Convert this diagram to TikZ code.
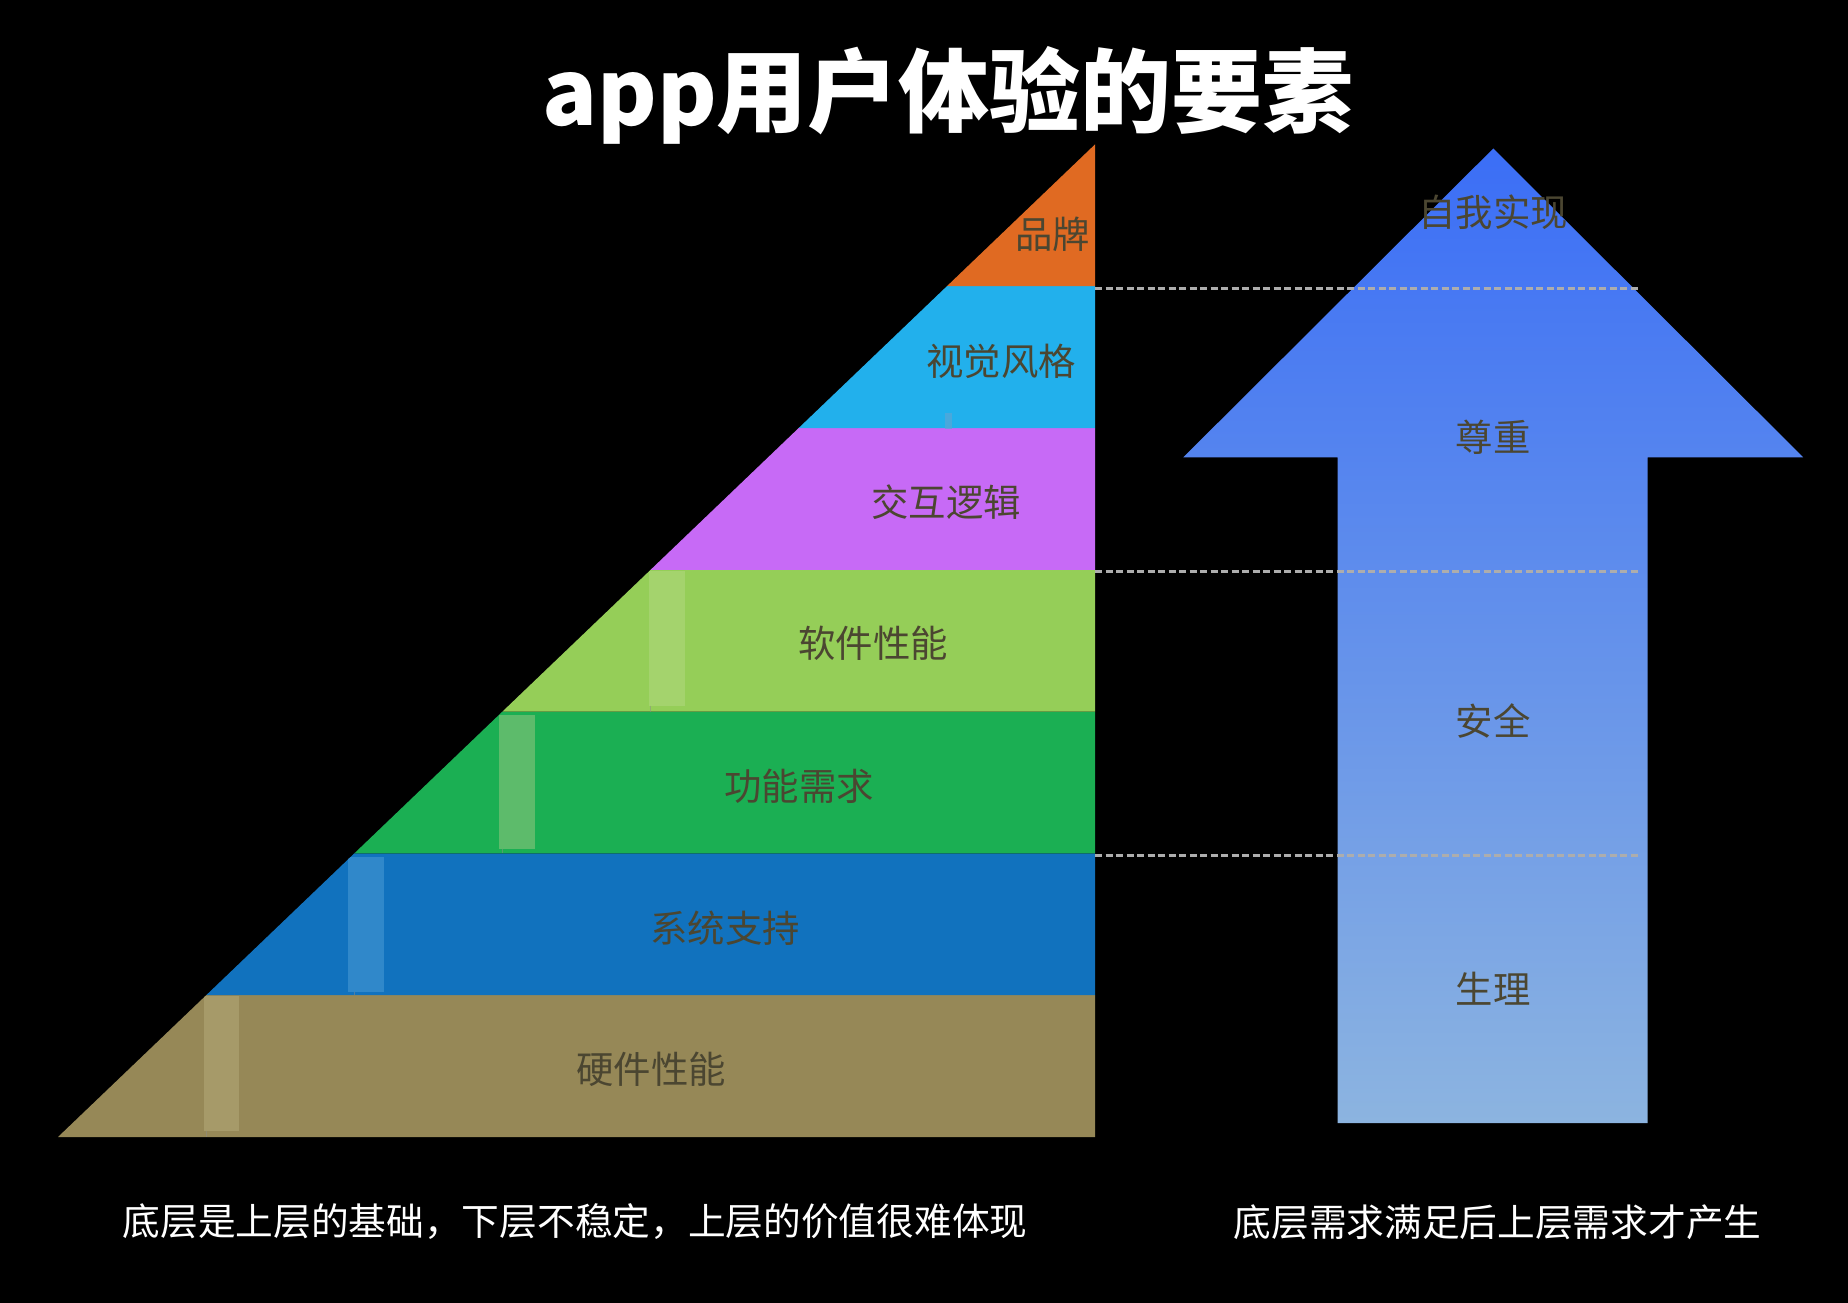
\documentclass[tikz,border=0pt]{standalone}
\usepackage{fontspec}
\setmainfont{Noto Sans CJK SC}
\newfontfamily\cjk{Noto Sans CJK SC}
\definecolor{cOrange}{HTML}{E06A22}
\definecolor{cSky}{HTML}{22B0EC}
\definecolor{cPurple}{HTML}{C76AF6}
\definecolor{cLime}{HTML}{95CE58}
\definecolor{cGreen}{HTML}{1BAF53}
\definecolor{cBlue}{HTML}{1172BE}
\definecolor{cBrown}{HTML}{968857}
\definecolor{sBrown}{HTML}{A69A69}
\definecolor{sBlue}{HTML}{3088CA}
\definecolor{sGreen}{HTML}{5DBB6B}
\definecolor{sLime}{HTML}{A4D36D}
\definecolor{sSky}{HTML}{5AA6D6}
\definecolor{labelc}{HTML}{4B4631}
\definecolor{arrowtop}{HTML}{3B6EF6}
\definecolor{arrowbot}{HTML}{8CB4E0}
\definecolor{dashc}{HTML}{ADADAD}
\tikzset{
  layerlabel/.style={font=\cjk\fontsize{37.4}{40}\selectfont, text=labelc, inner sep=0pt},
  note/.style={font=\cjk\fontsize{37.7}{40}\selectfont, text=white, inner sep=0pt},
  guide/.style={draw=dashc, line width=3pt, dash pattern=on 7pt off 3.5pt},
  tick/.style={draw=black!45, line width=0.8pt, opacity=0.5}
}
\begin{document}
\begin{tikzpicture}[x=1pt,y=-1pt]
\fill[black] (0,0) rectangle (1848,1303);
\useasboundingbox (0,0) rectangle (1848,1303);

% pyramid layers
\fill[cBrown]  (58,1137) -- (1095,1137) -- (1095,995.2) -- (206.2,995.2) -- cycle;
\fill[cBlue]   (206.2,995.2) -- (1095,995.2) -- (1095,853.4) -- (354.3,853.4) -- cycle;
\fill[cGreen]  (354.3,853.4) -- (1095,853.4) -- (1095,711.6) -- (502.4,711.6) -- cycle;
\fill[cLime]   (502.4,711.6) -- (1095,711.6) -- (1095,569.8) -- (650.6,569.8) -- cycle;
\fill[cPurple] (650.6,569.8) -- (1095,569.8) -- (1095,428) -- (798.7,428) -- cycle;
\fill[cSky]    (798.7,428) -- (1095,428) -- (1095,286.2) -- (946.9,286.2) -- cycle;
\fill[cOrange] (946.9,286.2) -- (1095,286.2) -- (1095,144.4) -- cycle;

% light strips
\begin{scope}
\clip (58,1137) -- (1095,144.4) -- (1095,1137) -- cycle;
\fill[sBrown] (203.5,996) rectangle (239,1131);
\fill[sBlue]  (348,857) rectangle (383.5,992);
\fill[sGreen] (499,714.6) rectangle (534.6,848.5);
\fill[sLime]  (649,571) rectangle (684.6,705.7);
\fill[sSky, opacity=0.7] (945.3,413) rectangle (951.7,429);
\end{scope}
\draw[tick] (206,1131) -- (206,1137);
\draw[tick] (354,992) -- (354,995.2);
\draw[tick] (502,848.5) -- (502,853.4);
\draw[tick] (650.7,705.7) -- (650.7,711.6);

% layer labels
\node[layerlabel] (brand) at (1052.5,234.5) {品牌};
\node[layerlabel] (visual) at (1001,361) {视觉风格};
\node[layerlabel] (logic) at (946,502) {交互逻辑};
\node[layerlabel] (soft) at (873,643) {软件性能};
\node[layerlabel] (func) at (799,786) {功能需求};
\node[layerlabel] (sys) at (725,928) {系统支持};
\node[layerlabel] (hard) at (651,1069) {硬件性能};

% arrow
\shade[top color=arrowtop, bottom color=arrowbot]
  (1493.3,148.5) -- (1803.2,457.3) -- (1647.7,457.3) -- (1647.7,1123)
  -- (1337.7,1123) -- (1337.7,457.3) -- (1183.3,457.3) -- cycle;

% guide lines
\coordinate (g1a) at (1095,288);   \coordinate (g1b) at (1640.6,288);
\coordinate (g2a) at (1095,571.5); \coordinate (g2b) at (1640.6,571.5);
\coordinate (g3a) at (1095,855);   \coordinate (g3b) at (1640.6,855);
\draw[guide] (g1a) -- (g1b);
\draw[guide] (g2a) -- (g2b);
\draw[guide] (g3a) -- (g3b);

% arrow labels
\node[layerlabel] (self) at (1493,212.5) {自我实现};
\node[layerlabel] (esteem) at (1493,437.5) {尊重};
\node[layerlabel] (safety) at (1493,721) {安全};
\node[layerlabel] (phys) at (1493,989) {生理};

% title
\node[font=\cjk\bfseries\fontsize{91}{100}\selectfont, text=white, anchor=base, inner sep=0pt] (title) at (948,126) {app用户体验的要素};

% bottom notes
\node[note] (noteL) at (575,1222) {底层是上层的基础，下层不稳定，上层的价值很难体现};
\node[note] (noteR) at (1497.5,1222) {底层需求满足后上层需求才产生};
\end{tikzpicture}
\end{document}
